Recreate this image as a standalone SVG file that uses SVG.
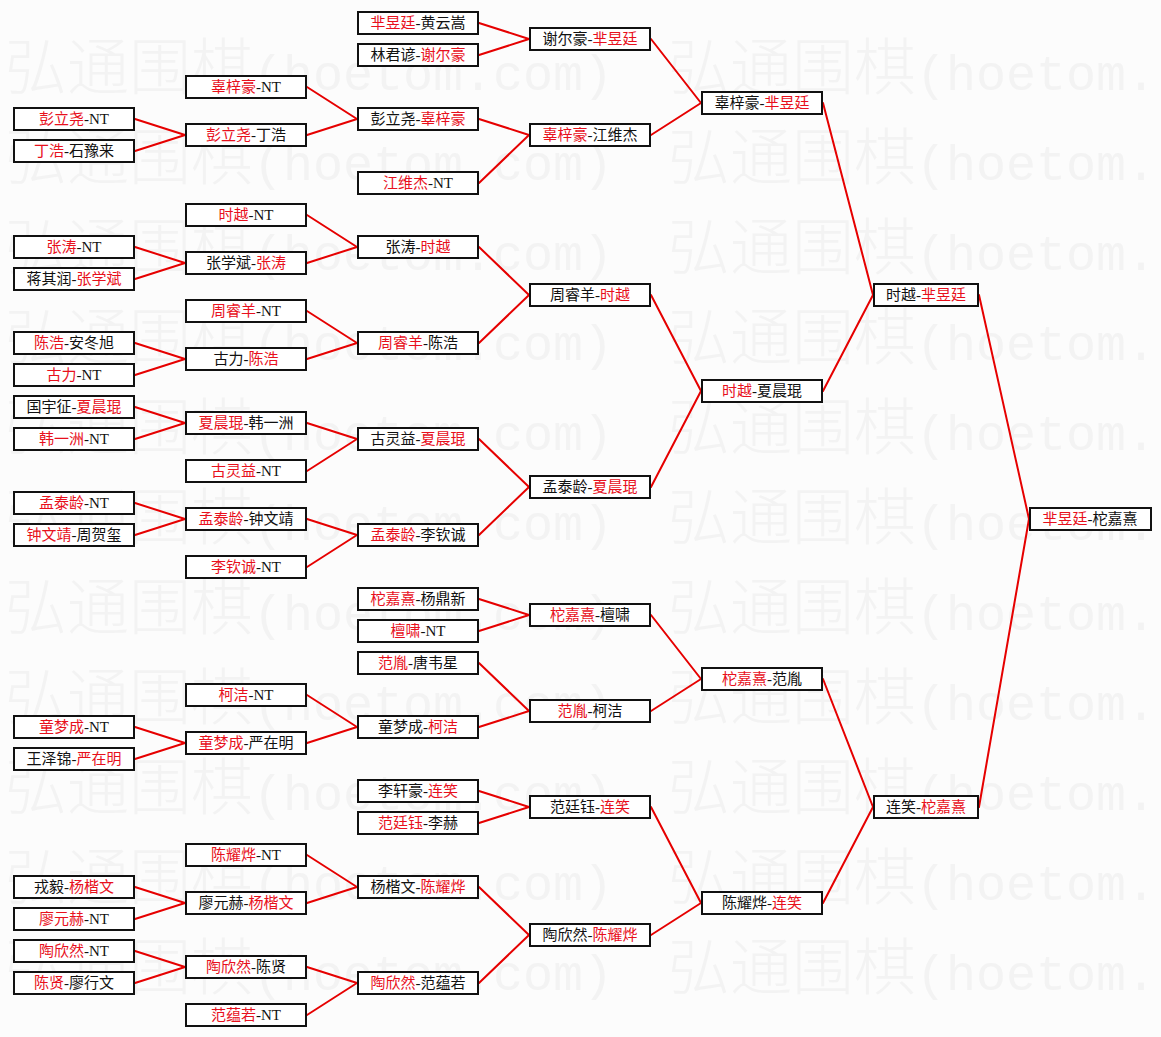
<svg xmlns="http://www.w3.org/2000/svg" width="1161" height="1037" viewBox="0 0 1161 1037">
<style>
.bg{fill:#fcfcfc}
.wm{fill:#f3f3f3;font-size:62px}
.wm .cj{font-family:"Noto Sans CJK SC",sans-serif;font-weight:300}
.wm .lt{font-family:"Liberation Mono",monospace;font-size:50px}
.n{fill:#ffffff;stroke:#111111;stroke-width:2}
.t{font-family:"Liberation Serif","Noto Sans CJK SC",serif;font-size:15px;fill:#111111;text-anchor:middle}
.r{fill:#e8101c}
#connectors line{stroke:#e60000;stroke-width:2;stroke-linecap:round}
</style>
<rect class="bg" x="0" y="0" width="1161" height="1037"/>
<g id="watermark" class="wm">
<text x="5" y="90"><tspan class="cj">弘通围棋</tspan><tspan class="lt">(hoetom.com)</tspan></text>
<text x="668" y="90"><tspan class="cj">弘通围棋</tspan><tspan class="lt">(hoetom.</tspan></text>
<text x="5" y="180"><tspan class="cj">弘通围棋</tspan><tspan class="lt">(hoetom.com)</tspan></text>
<text x="668" y="180"><tspan class="cj">弘通围棋</tspan><tspan class="lt">(hoetom.</tspan></text>
<text x="5" y="270"><tspan class="cj">弘通围棋</tspan><tspan class="lt">(hoetom.com)</tspan></text>
<text x="668" y="270"><tspan class="cj">弘通围棋</tspan><tspan class="lt">(hoetom.</tspan></text>
<text x="5" y="360"><tspan class="cj">弘通围棋</tspan><tspan class="lt">(hoetom.com)</tspan></text>
<text x="668" y="360"><tspan class="cj">弘通围棋</tspan><tspan class="lt">(hoetom.</tspan></text>
<text x="5" y="450"><tspan class="cj">弘通围棋</tspan><tspan class="lt">(hoetom.com)</tspan></text>
<text x="668" y="450"><tspan class="cj">弘通围棋</tspan><tspan class="lt">(hoetom.</tspan></text>
<text x="5" y="540"><tspan class="cj">弘通围棋</tspan><tspan class="lt">(hoetom.com)</tspan></text>
<text x="668" y="540"><tspan class="cj">弘通围棋</tspan><tspan class="lt">(hoetom.</tspan></text>
<text x="5" y="630"><tspan class="cj">弘通围棋</tspan><tspan class="lt">(hoetom.com)</tspan></text>
<text x="668" y="630"><tspan class="cj">弘通围棋</tspan><tspan class="lt">(hoetom.</tspan></text>
<text x="5" y="720"><tspan class="cj">弘通围棋</tspan><tspan class="lt">(hoetom.com)</tspan></text>
<text x="668" y="720"><tspan class="cj">弘通围棋</tspan><tspan class="lt">(hoetom.</tspan></text>
<text x="5" y="810"><tspan class="cj">弘通围棋</tspan><tspan class="lt">(hoetom.com)</tspan></text>
<text x="668" y="810"><tspan class="cj">弘通围棋</tspan><tspan class="lt">(hoetom.</tspan></text>
<text x="5" y="900"><tspan class="cj">弘通围棋</tspan><tspan class="lt">(hoetom.com)</tspan></text>
<text x="668" y="900"><tspan class="cj">弘通围棋</tspan><tspan class="lt">(hoetom.</tspan></text>
<text x="5" y="990"><tspan class="cj">弘通围棋</tspan><tspan class="lt">(hoetom.com)</tspan></text>
<text x="668" y="990"><tspan class="cj">弘通围棋</tspan><tspan class="lt">(hoetom.</tspan></text>
</g>
<g id="connectors">
<line x1="135" y1="119" x2="185" y2="135"/><line x1="135" y1="151" x2="185" y2="135"/>
<line x1="135" y1="247" x2="185" y2="263"/><line x1="135" y1="279" x2="185" y2="263"/>
<line x1="135" y1="343" x2="185" y2="359"/><line x1="135" y1="375" x2="185" y2="359"/>
<line x1="135" y1="407" x2="185" y2="423"/><line x1="135" y1="439" x2="185" y2="423"/>
<line x1="135" y1="503" x2="185" y2="519"/><line x1="135" y1="535" x2="185" y2="519"/>
<line x1="135" y1="727" x2="185" y2="743"/><line x1="135" y1="759" x2="185" y2="743"/>
<line x1="135" y1="887" x2="185" y2="903"/><line x1="135" y1="919" x2="185" y2="903"/>
<line x1="135" y1="951" x2="185" y2="967"/><line x1="135" y1="983" x2="185" y2="967"/>
<line x1="307" y1="87" x2="357" y2="119"/><line x1="307" y1="135" x2="357" y2="119"/>
<line x1="307" y1="215" x2="357" y2="247"/><line x1="307" y1="263" x2="357" y2="247"/>
<line x1="307" y1="311" x2="357" y2="343"/><line x1="307" y1="359" x2="357" y2="343"/>
<line x1="307" y1="423" x2="357" y2="439"/><line x1="307" y1="471" x2="357" y2="439"/>
<line x1="307" y1="519" x2="357" y2="535"/><line x1="307" y1="567" x2="357" y2="535"/>
<line x1="307" y1="695" x2="357" y2="727"/><line x1="307" y1="743" x2="357" y2="727"/>
<line x1="307" y1="855" x2="357" y2="887"/><line x1="307" y1="903" x2="357" y2="887"/>
<line x1="307" y1="967" x2="357" y2="983"/><line x1="307" y1="1015" x2="357" y2="983"/>
<line x1="479" y1="23" x2="529" y2="39"/><line x1="479" y1="55" x2="529" y2="39"/>
<line x1="479" y1="119" x2="529" y2="135"/><line x1="479" y1="183" x2="529" y2="135"/>
<line x1="479" y1="247" x2="529" y2="295"/><line x1="479" y1="343" x2="529" y2="295"/>
<line x1="479" y1="439" x2="529" y2="487"/><line x1="479" y1="535" x2="529" y2="487"/>
<line x1="479" y1="599" x2="529" y2="615"/><line x1="479" y1="631" x2="529" y2="615"/>
<line x1="479" y1="663" x2="529" y2="711"/><line x1="479" y1="727" x2="529" y2="711"/>
<line x1="479" y1="791" x2="529" y2="807"/><line x1="479" y1="823" x2="529" y2="807"/>
<line x1="479" y1="887" x2="529" y2="935"/><line x1="479" y1="983" x2="529" y2="935"/>
<line x1="651" y1="39" x2="701" y2="103"/><line x1="651" y1="135" x2="701" y2="103"/>
<line x1="651" y1="295" x2="701" y2="391"/><line x1="651" y1="487" x2="701" y2="391"/>
<line x1="651" y1="615" x2="701" y2="679"/><line x1="651" y1="711" x2="701" y2="679"/>
<line x1="651" y1="807" x2="701" y2="903"/><line x1="651" y1="935" x2="701" y2="903"/>
<line x1="823" y1="103" x2="873" y2="295"/><line x1="823" y1="391" x2="873" y2="295"/>
<line x1="823" y1="679" x2="873" y2="807"/><line x1="823" y1="903" x2="873" y2="807"/>
<line x1="979" y1="295" x2="1029" y2="519"/><line x1="979" y1="807" x2="1029" y2="519"/>
</g>
<g id="r1-1"><rect class="n" x="14" y="108" width="120" height="22"/><text class="t" x="74" y="124"><tspan class="r">彭立尧</tspan>-NT</text></g>
<g id="r1-2"><rect class="n" x="14" y="140" width="120" height="22"/><text class="t" x="74" y="156"><tspan class="r">丁浩</tspan>-石豫来</text></g>
<g id="r1-3"><rect class="n" x="14" y="236" width="120" height="22"/><text class="t" x="74" y="252"><tspan class="r">张涛</tspan>-NT</text></g>
<g id="r1-4"><rect class="n" x="14" y="268" width="120" height="22"/><text class="t" x="74" y="284">蒋其润-<tspan class="r">张学斌</tspan></text></g>
<g id="r1-5"><rect class="n" x="14" y="332" width="120" height="22"/><text class="t" x="74" y="348"><tspan class="r">陈浩</tspan>-安冬旭</text></g>
<g id="r1-6"><rect class="n" x="14" y="364" width="120" height="22"/><text class="t" x="74" y="380"><tspan class="r">古力</tspan>-NT</text></g>
<g id="r1-7"><rect class="n" x="14" y="396" width="120" height="22"/><text class="t" x="74" y="412">国宇征-<tspan class="r">夏晨琨</tspan></text></g>
<g id="r1-8"><rect class="n" x="14" y="428" width="120" height="22"/><text class="t" x="74" y="444"><tspan class="r">韩一洲</tspan>-NT</text></g>
<g id="r1-9"><rect class="n" x="14" y="492" width="120" height="22"/><text class="t" x="74" y="508"><tspan class="r">孟泰龄</tspan>-NT</text></g>
<g id="r1-10"><rect class="n" x="14" y="524" width="120" height="22"/><text class="t" x="74" y="540"><tspan class="r">钟文靖</tspan>-周贺玺</text></g>
<g id="r1-11"><rect class="n" x="14" y="716" width="120" height="22"/><text class="t" x="74" y="732"><tspan class="r">童梦成</tspan>-NT</text></g>
<g id="r1-12"><rect class="n" x="14" y="748" width="120" height="22"/><text class="t" x="74" y="764">王泽锦-<tspan class="r">严在明</tspan></text></g>
<g id="r1-13"><rect class="n" x="14" y="876" width="120" height="22"/><text class="t" x="74" y="892">戎毅-<tspan class="r">杨楷文</tspan></text></g>
<g id="r1-14"><rect class="n" x="14" y="908" width="120" height="22"/><text class="t" x="74" y="924"><tspan class="r">廖元赫</tspan>-NT</text></g>
<g id="r1-15"><rect class="n" x="14" y="940" width="120" height="22"/><text class="t" x="74" y="956"><tspan class="r">陶欣然</tspan>-NT</text></g>
<g id="r1-16"><rect class="n" x="14" y="972" width="120" height="22"/><text class="t" x="74" y="988"><tspan class="r">陈贤</tspan>-廖行文</text></g>
<g id="r2-1"><rect class="n" x="186" y="76" width="120" height="22"/><text class="t" x="246" y="92"><tspan class="r">辜梓豪</tspan>-NT</text></g>
<g id="r2-2"><rect class="n" x="186" y="124" width="120" height="22"/><text class="t" x="246" y="140"><tspan class="r">彭立尧</tspan>-丁浩</text></g>
<g id="r2-3"><rect class="n" x="186" y="204" width="120" height="22"/><text class="t" x="246" y="220"><tspan class="r">时越</tspan>-NT</text></g>
<g id="r2-4"><rect class="n" x="186" y="252" width="120" height="22"/><text class="t" x="246" y="268">张学斌-<tspan class="r">张涛</tspan></text></g>
<g id="r2-5"><rect class="n" x="186" y="300" width="120" height="22"/><text class="t" x="246" y="316"><tspan class="r">周睿羊</tspan>-NT</text></g>
<g id="r2-6"><rect class="n" x="186" y="348" width="120" height="22"/><text class="t" x="246" y="364">古力-<tspan class="r">陈浩</tspan></text></g>
<g id="r2-7"><rect class="n" x="186" y="412" width="120" height="22"/><text class="t" x="246" y="428"><tspan class="r">夏晨琨</tspan>-韩一洲</text></g>
<g id="r2-8"><rect class="n" x="186" y="460" width="120" height="22"/><text class="t" x="246" y="476"><tspan class="r">古灵益</tspan>-NT</text></g>
<g id="r2-9"><rect class="n" x="186" y="508" width="120" height="22"/><text class="t" x="246" y="524"><tspan class="r">孟泰龄</tspan>-钟文靖</text></g>
<g id="r2-10"><rect class="n" x="186" y="556" width="120" height="22"/><text class="t" x="246" y="572"><tspan class="r">李钦诚</tspan>-NT</text></g>
<g id="r2-11"><rect class="n" x="186" y="684" width="120" height="22"/><text class="t" x="246" y="700"><tspan class="r">柯洁</tspan>-NT</text></g>
<g id="r2-12"><rect class="n" x="186" y="732" width="120" height="22"/><text class="t" x="246" y="748"><tspan class="r">童梦成</tspan>-严在明</text></g>
<g id="r2-13"><rect class="n" x="186" y="844" width="120" height="22"/><text class="t" x="246" y="860"><tspan class="r">陈耀烨</tspan>-NT</text></g>
<g id="r2-14"><rect class="n" x="186" y="892" width="120" height="22"/><text class="t" x="246" y="908">廖元赫-<tspan class="r">杨楷文</tspan></text></g>
<g id="r2-15"><rect class="n" x="186" y="956" width="120" height="22"/><text class="t" x="246" y="972"><tspan class="r">陶欣然</tspan>-陈贤</text></g>
<g id="r2-16"><rect class="n" x="186" y="1004" width="120" height="22"/><text class="t" x="246" y="1020"><tspan class="r">范蕴若</tspan>-NT</text></g>
<g id="r3-1"><rect class="n" x="358" y="12" width="120" height="22"/><text class="t" x="418" y="28"><tspan class="r">芈昱廷</tspan>-黄云嵩</text></g>
<g id="r3-2"><rect class="n" x="358" y="44" width="120" height="22"/><text class="t" x="418" y="60">林君谚-<tspan class="r">谢尔豪</tspan></text></g>
<g id="r3-3"><rect class="n" x="358" y="108" width="120" height="22"/><text class="t" x="418" y="124">彭立尧-<tspan class="r">辜梓豪</tspan></text></g>
<g id="r3-4"><rect class="n" x="358" y="172" width="120" height="22"/><text class="t" x="418" y="188"><tspan class="r">江维杰</tspan>-NT</text></g>
<g id="r3-5"><rect class="n" x="358" y="236" width="120" height="22"/><text class="t" x="418" y="252">张涛-<tspan class="r">时越</tspan></text></g>
<g id="r3-6"><rect class="n" x="358" y="332" width="120" height="22"/><text class="t" x="418" y="348"><tspan class="r">周睿羊</tspan>-陈浩</text></g>
<g id="r3-7"><rect class="n" x="358" y="428" width="120" height="22"/><text class="t" x="418" y="444">古灵益-<tspan class="r">夏晨琨</tspan></text></g>
<g id="r3-8"><rect class="n" x="358" y="524" width="120" height="22"/><text class="t" x="418" y="540"><tspan class="r">孟泰龄</tspan>-李钦诚</text></g>
<g id="r3-9"><rect class="n" x="358" y="588" width="120" height="22"/><text class="t" x="418" y="604"><tspan class="r">柁嘉熹</tspan>-杨鼎新</text></g>
<g id="r3-10"><rect class="n" x="358" y="620" width="120" height="22"/><text class="t" x="418" y="636"><tspan class="r">檀啸</tspan>-NT</text></g>
<g id="r3-11"><rect class="n" x="358" y="652" width="120" height="22"/><text class="t" x="418" y="668"><tspan class="r">范胤</tspan>-唐韦星</text></g>
<g id="r3-12"><rect class="n" x="358" y="716" width="120" height="22"/><text class="t" x="418" y="732">童梦成-<tspan class="r">柯洁</tspan></text></g>
<g id="r3-13"><rect class="n" x="358" y="780" width="120" height="22"/><text class="t" x="418" y="796">李轩豪-<tspan class="r">连笑</tspan></text></g>
<g id="r3-14"><rect class="n" x="358" y="812" width="120" height="22"/><text class="t" x="418" y="828"><tspan class="r">范廷钰</tspan>-李赫</text></g>
<g id="r3-15"><rect class="n" x="358" y="876" width="120" height="22"/><text class="t" x="418" y="892">杨楷文-<tspan class="r">陈耀烨</tspan></text></g>
<g id="r3-16"><rect class="n" x="358" y="972" width="120" height="22"/><text class="t" x="418" y="988"><tspan class="r">陶欣然</tspan>-范蕴若</text></g>
<g id="r4-1"><rect class="n" x="530" y="28" width="120" height="22"/><text class="t" x="590" y="44">谢尔豪-<tspan class="r">芈昱廷</tspan></text></g>
<g id="r4-2"><rect class="n" x="530" y="124" width="120" height="22"/><text class="t" x="590" y="140"><tspan class="r">辜梓豪</tspan>-江维杰</text></g>
<g id="r4-3"><rect class="n" x="530" y="284" width="120" height="22"/><text class="t" x="590" y="300">周睿羊-<tspan class="r">时越</tspan></text></g>
<g id="r4-4"><rect class="n" x="530" y="476" width="120" height="22"/><text class="t" x="590" y="492">孟泰龄-<tspan class="r">夏晨琨</tspan></text></g>
<g id="r4-5"><rect class="n" x="530" y="604" width="120" height="22"/><text class="t" x="590" y="620"><tspan class="r">柁嘉熹</tspan>-檀啸</text></g>
<g id="r4-6"><rect class="n" x="530" y="700" width="120" height="22"/><text class="t" x="590" y="716"><tspan class="r">范胤</tspan>-柯洁</text></g>
<g id="r4-7"><rect class="n" x="530" y="796" width="120" height="22"/><text class="t" x="590" y="812">范廷钰-<tspan class="r">连笑</tspan></text></g>
<g id="r4-8"><rect class="n" x="530" y="924" width="120" height="22"/><text class="t" x="590" y="940">陶欣然-<tspan class="r">陈耀烨</tspan></text></g>
<g id="r5-1"><rect class="n" x="702" y="92" width="120" height="22"/><text class="t" x="762" y="108">辜梓豪-<tspan class="r">芈昱廷</tspan></text></g>
<g id="r5-2"><rect class="n" x="702" y="380" width="120" height="22"/><text class="t" x="762" y="396"><tspan class="r">时越</tspan>-夏晨琨</text></g>
<g id="r5-3"><rect class="n" x="702" y="668" width="120" height="22"/><text class="t" x="762" y="684"><tspan class="r">柁嘉熹</tspan>-范胤</text></g>
<g id="r5-4"><rect class="n" x="702" y="892" width="120" height="22"/><text class="t" x="762" y="908">陈耀烨-<tspan class="r">连笑</tspan></text></g>
<g id="r6-1"><rect class="n" x="874" y="284" width="104" height="22"/><text class="t" x="926" y="300">时越-<tspan class="r">芈昱廷</tspan></text></g>
<g id="r6-2"><rect class="n" x="874" y="796" width="104" height="22"/><text class="t" x="926" y="812">连笑-<tspan class="r">柁嘉熹</tspan></text></g>
<g id="final"><rect class="n" x="1030" y="508" width="121" height="22"/><text class="t" x="1090" y="524"><tspan class="r">芈昱廷</tspan>-柁嘉熹</text></g>
</svg>
